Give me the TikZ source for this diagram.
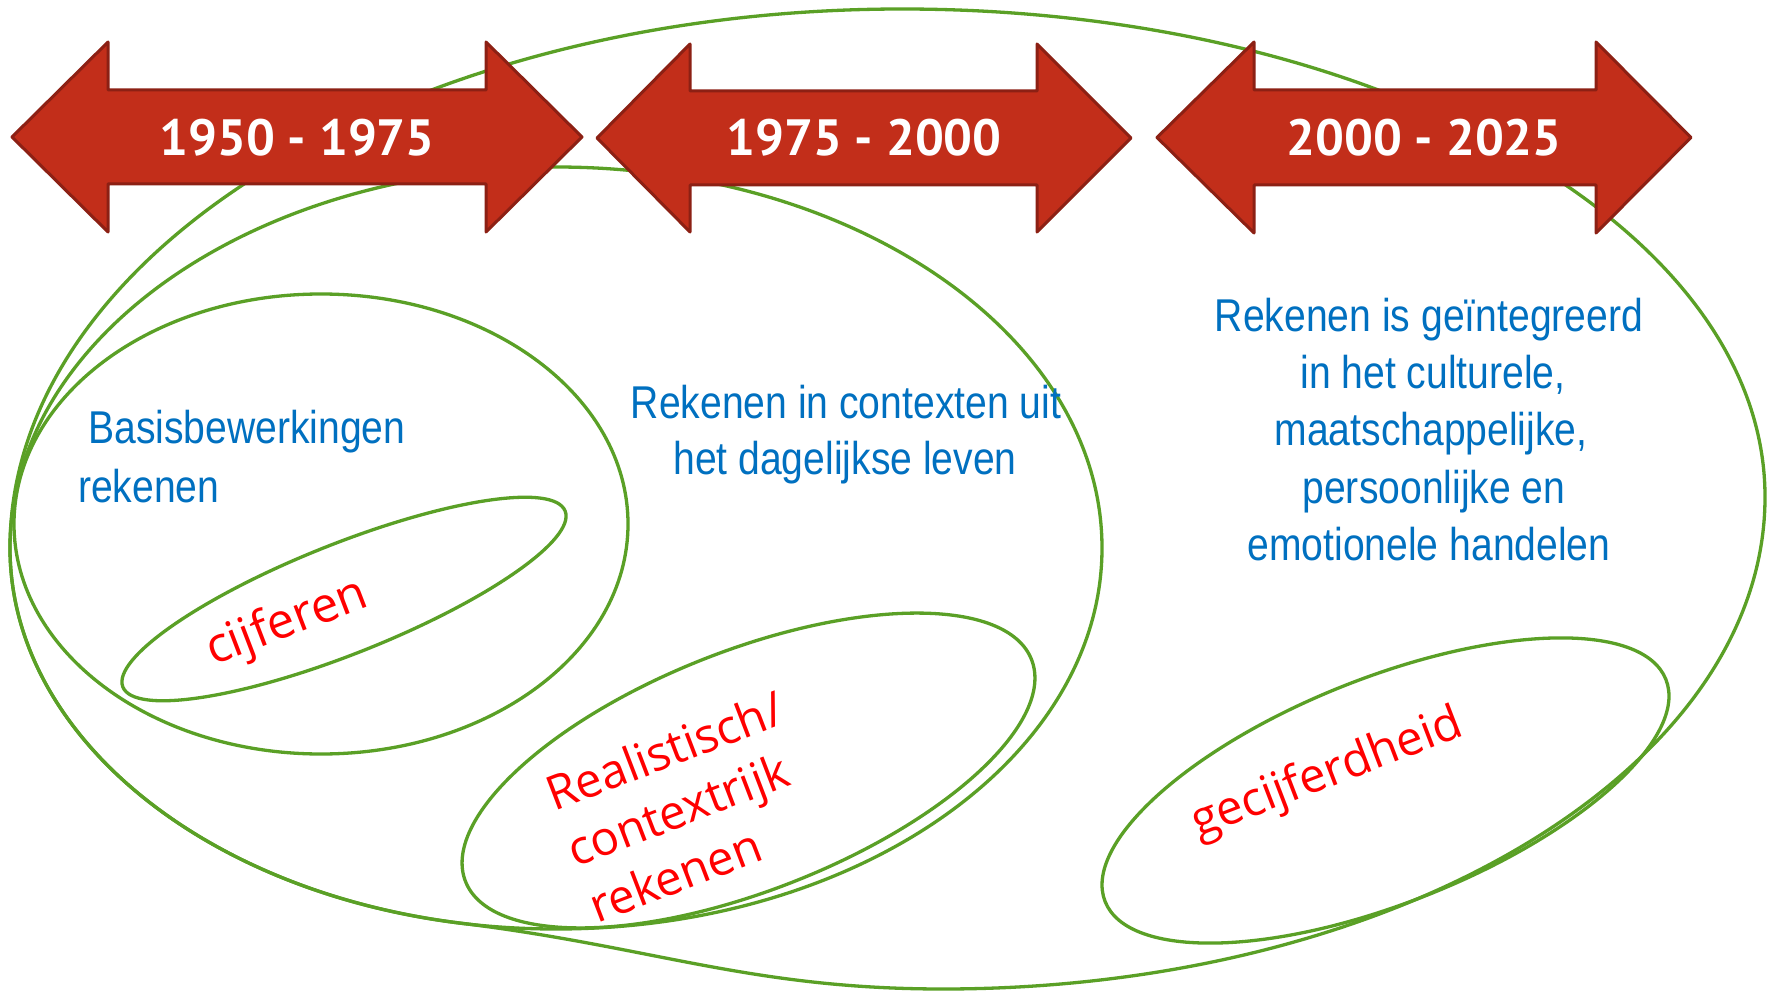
\documentclass[tikz,border=0pt]{standalone}
\usepackage{fontspec}
\setmainfont{Liberation Sans}
\newfontfamily\bluefont[FakeStretch=0.85]{Liberation Sans}
\newfontfamily\redfont{Open Sans}
\newfontfamily\yearfont{PT Sans}
\definecolor{ellgreen}{RGB}{90,160,38}
\definecolor{arrowfill}{RGB}{194,46,26}
\definecolor{arrowline}{RGB}{140,32,20}
\definecolor{txtblue}{RGB}{0,112,192}
\begin{document}
\begin{tikzpicture}[x=1pt,y=1pt,
  ell/.style={draw=ellgreen, line width=3.3pt},
  arrowshape/.style={fill=arrowfill, draw=arrowline, line width=3pt, line join=round},
  yeartext/.style={text=white, font=\yearfont\bfseries\fontsize{51}{60}\selectfont, inner sep=0pt},
  bluetext/.style={text=txtblue, font=\bluefont\fontsize{46}{57}\selectfont, inner sep=0pt},
  redtext/.style={text=red, font=\redfont\fontsize{47.5}{60}\selectfont, inner sep=0pt, rotate=21, anchor=base west},
]
\useasboundingbox (0,0) rectangle (1772,-992);
\fill[white] (0,0) rectangle (1772,-992);

% outer shape
\draw[ell] (902,-9)
  arc[start angle=90, end angle=180, x radius=892, y radius=539]
  arc[start angle=180, end angle=260, x radius=546, y radius=381]
  .. controls (654,-947) and (750,-989) .. (943,-989)
  arc[start angle=270, end angle=360, x radius=822, y radius=492]
  arc[start angle=0, end angle=90, x radius=863, y radius=488] -- cycle;
% other ellipses
\draw[ell] (556,-548) ellipse [x radius=546, y radius=381];
\draw[ell] (321,-524) ellipse [x radius=307, y radius=230];
\draw[ell, rotate around={21.7:(344,-599)}] (344,-599) ellipse [x radius=238, y radius=55];
\draw[ell, rotate around={21.4:(748.5,-770.5)}] (748.5,-770.5) ellipse [x radius=304, y radius=120];
\draw[ell, rotate around={21.6:(1385.5,-790.5)}] (1385.5,-790.5) ellipse [x radius=301.6, y radius=112.6];

% arrows
\draw[arrowshape] (12,-137) -- (108,-42) -- (108,-90) -- (486,-90) -- (486,-42) -- (582,-137)
  -- (486,-232) -- (486,-184) -- (108,-184) -- (108,-232) -- cycle;
\draw[arrowshape] (597,-138) -- (690,-44) -- (690,-91) -- (1037,-91) -- (1037,-44) -- (1131,-138)
  -- (1037,-232) -- (1037,-185) -- (690,-185) -- (690,-232) -- cycle;
\draw[arrowshape] (1157,-137.5) -- (1254,-42) -- (1254,-90) -- (1596,-90) -- (1596,-42) -- (1691,-137.5)
  -- (1596,-233) -- (1596,-185) -- (1254,-185) -- (1254,-233) -- cycle;

\node[yeartext] (y1) at (297,-138) {1950 - 1975};
\node[yeartext] (y2) at (864,-138) {1975 - 2000};
\node[yeartext] (y3) at (1424,-138) {2000 - 2025};

% blue texts
\node[bluetext, anchor=base west] (b1) at (88,-443) {Basisbewerkingen};
\node[bluetext, anchor=base west] (b2) at (78,-502) {rekenen};

\node[bluetext, anchor=base] (m1) at (846,-418) {Rekenen in contexten uit};
\node[bluetext, anchor=base] (m2) at (845,-474) {het dagelijkse leven};

\node[bluetext, anchor=base] (r1) at (1429,-331) {Rekenen is geïntegreerd};
\node[bluetext, anchor=base] (r2) at (1433,-388) {in het culturele,};
\node[bluetext, anchor=base] (r3) at (1431,-445.5) {maatschappelijke,};
\node[bluetext, anchor=base] (r4) at (1434,-503) {persoonlijke en};
\node[bluetext, anchor=base] (r5) at (1429,-560) {emotionele handelen};

% red texts
\node[redtext, font=\redfont\fontsize{49}{60}\selectfont] (c1) at (213,-666) {cijferen};
\node[redtext] (z1) at (554,-812) {Realistisch/};
\node[redtext] (z2) at (575,-868) {contextrijk};
\node[redtext] (z3) at (597,-924) {rekenen};
\node[redtext] (g1) at (1198,-838) {gecijferdheid};
\end{tikzpicture}
\end{document}
